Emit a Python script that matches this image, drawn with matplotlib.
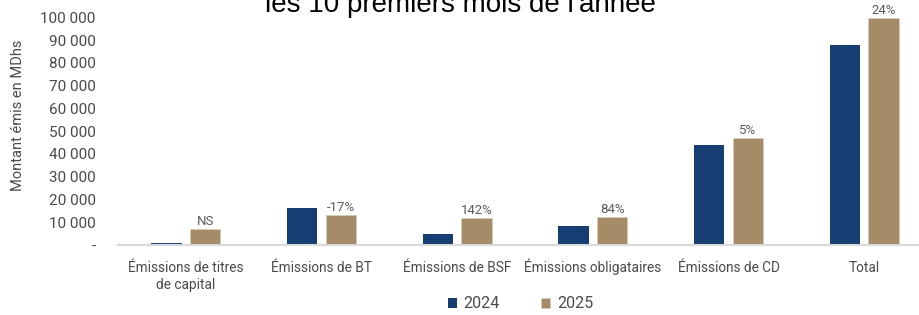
import numpy as np
import matplotlib
matplotlib.use('Agg')
import matplotlib.pyplot as plt
from matplotlib.ticker import FuncFormatter
from matplotlib.transforms import offset_copy

# data (MDhs)
categories = ['Émissions de titres\nde capital', 'Émissions de BT', 'Émissions de BSF',
              'Émissions obligataires', 'Émissions de CD', 'Total']
v2024 = [800, 16400, 5000, 8400, 43900, 87700]
v2025 = [6900, 13100, 11900, 12100, 47000, 99700]
labels_2025 = ['NS', '-17%', '142%', '84%', '5%', '24%']
years = ['2024', '2025']

navy = '#163E73'
tan = '#A58B67'
grey = '#4a4a4a'

plt.rcParams['font.family'] = ['Roboto', 'DejaVu Sans']

fig = plt.figure(figsize=(9.2, 3.15), dpi=100)
ax = fig.add_axes([118 / 920, 70 / 315, 814 / 920, 227.6 / 315])

x = np.arange(len(categories))
w = 0.225
off = 0.143
b1 = ax.bar(x - off, v2024, w, color=navy, label=years[0])
b2 = ax.bar(x + off, v2025, w, color=tan, edgecolor='#D8CBB6', linewidth=0.6, label=years[1])

for rect, txt in zip(b2, labels_2025):
    ax.text(rect.get_x() + rect.get_width() / 2, rect.get_height() + 500, txt,
            ha='center', va='bottom', fontsize=9.5, color='#5a5a5a')

ax.set_xlim(-0.5, len(categories) - 0.5)
ax.set_ylim(0, 100000)
ax.set_yticks(range(0, 100001, 10000))
ax.yaxis.set_major_formatter(FuncFormatter(
    lambda v, p: '-' if v == 0 else f'{int(v):,}'.replace(',', ' ')))
ax.set_xticks(x)
ax.set_xticklabels([])
# category labels, one text per line so baselines line up
for xi, cat in zip(x, categories):
    for i, line in enumerate(cat.split('\n')):
        trans = offset_copy(ax.get_xaxis_transform(), fig=fig,
                            y=-(27 + 17 * i) * 72 / 100, units='points')
        ax.text(xi, 0, line, transform=trans, ha='center', va='baseline',
                fontsize=9.8, color=grey)
ax.tick_params(axis='y', length=0, labelsize=11, labelcolor=grey, pad=16)
ax.tick_params(axis='x', length=0)
for s in ['top', 'right', 'left']:
    ax.spines[s].set_visible(False)
ax.spines['bottom'].set_color('#D9D9D9')
ax.spines['bottom'].set_linewidth(1.5)
ax.set_ylabel('Montant émis en MDhs', fontsize=10.5, color=grey)
ax.yaxis.set_label_coords((25 - 118) / 814, 0.57)

fig.text(0.5, 1 - 12 / 315, "les 10 premiers mois de l'année", ha='center', va='baseline',
         fontsize=20, color='black', family='Liberation Sans')

fig.legend(handles=[b1, b2], labels=years, loc='center', bbox_to_anchor=(0.566, 1 - 304 / 315),
           ncol=2, frameon=False, fontsize=11.5, handlelength=0.55, handleheight=0.55,
           columnspacing=2.6, handletextpad=0.45, labelcolor=grey)

fig.savefig('out.png', dpi=100)
